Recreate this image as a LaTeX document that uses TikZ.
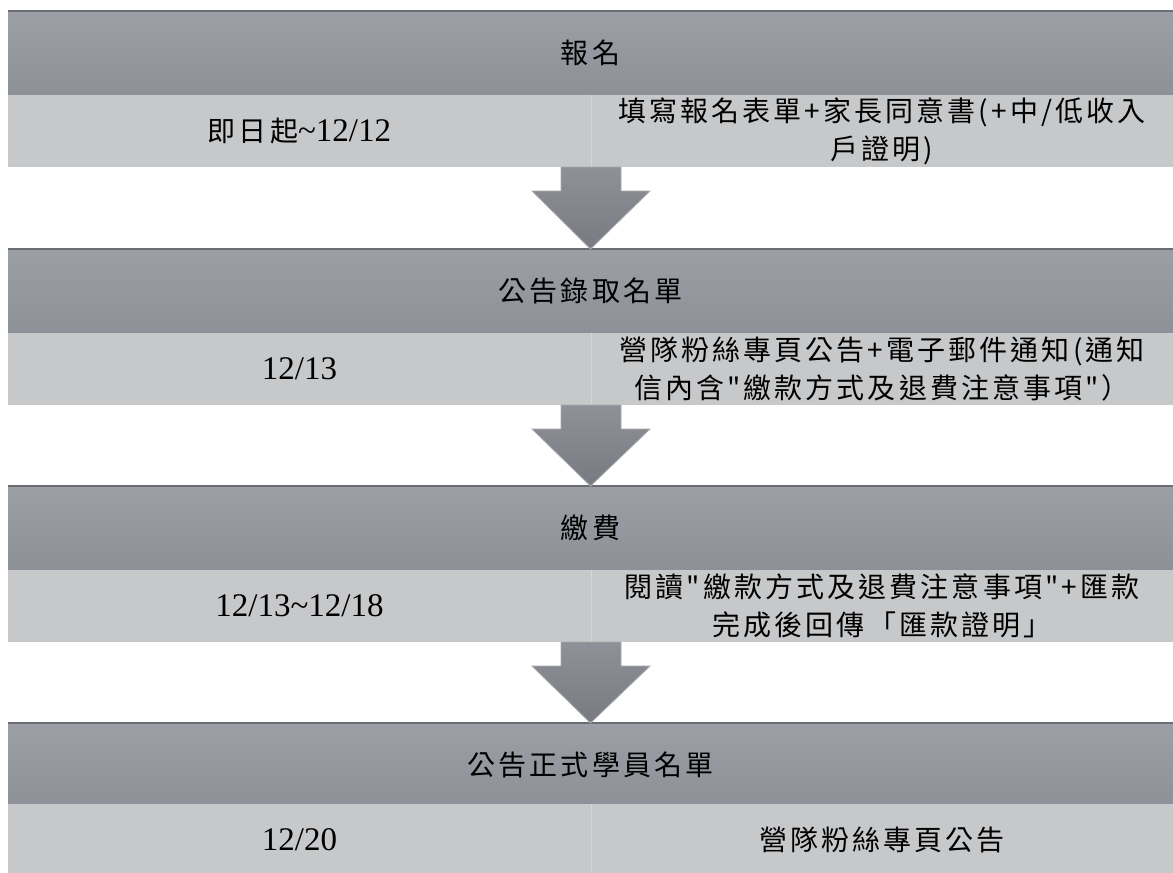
\documentclass[tikz,border=0pt]{standalone}
\usepackage{fontspec}
\setmainfont{Liberation Serif}
\newfontfamily\cjk{Noto Sans CJK TC}[LetterSpace=11]
\usetikzlibrary{calc}
\definecolor{hdtop}{RGB}{157,159,166}
\definecolor{hdbot}{RGB}{142,144,151}
\definecolor{hdline}{RGB}{108,109,114}
\definecolor{cellgray}{RGB}{199,200,202}
\definecolor{cellline}{RGB}{214,215,217}
\definecolor{artop}{RGB}{143,145,152}
\definecolor{arbot}{RGB}{120,122,129}
\definecolor{aredge}{RGB}{170,171,175}
\newcommand\zh[1]{{\cjk\fontsize{28}{38}\selectfont #1}}
\newcommand\en[1]{{\fontsize{33}{38}\selectfont #1}}
\newcommand\flowarrow[2]{%
  \draw[arrowbox] ($(#1)+(-30pt,0)$) -- ($(#1)+(30pt,0)$) -- ($(#1)+(30pt,-24pt)$)
    -- ($(#1)+(59pt,-24pt)$) -- (#2) -- ($(#1)+(-59pt,-24pt)$)
    -- ($(#1)+(-30pt,-24pt)$) -- cycle;}
\tikzset{
  header/.style={anchor=north west, minimum width=1165pt, minimum height=84pt,
    inner sep=0pt, outer sep=0pt, top color=hdtop, bottom color=hdbot,
    font=\fontsize{28}{38}\selectfont},
  cellbox/.style={anchor=north west, minimum width=583pt, minimum height=72pt,
    inner sep=0pt, outer sep=0pt, fill=cellgray, align=center, text width=570pt,
    font=\fontsize{28}{38}\selectfont},
  arrowbox/.style={top color=artop, bottom color=arbot, draw=aredge, line width=0.8pt},
  topedge/.style={draw=hdline, line width=1.5pt},
  divline/.style={draw=cellline, line width=1pt},
}
\begin{document}
\begin{tikzpicture}[x=1pt,y=-1pt]
\useasboundingbox[fill=white] (0,0) rectangle (1173,873);
% block 1
\node[header] (h1) at (8,11) {\zh{報名}};
\node[cellbox] (l1) at (8,95) {\zh{即日起}\en{\char"7E 12/12}};
\node[cellbox, minimum width=582pt] (r1) at (591,95) {\zh{填寫報名表單+家長同意書(+中/低收入}\\\zh{戶證明)}};
% block 2
\node[header] (h2) at (8,249) {\zh{公告錄取名單}};
\node[cellbox] (l2) at (8,333) {\en{12/13}};
\node[cellbox, minimum width=582pt] (r2) at (591,333) {\zh{營隊粉絲專頁公告+電子郵件通知(通知}\\\zh{信內含"繳款方式及退費注意事項"）}};
% block 3
\node[header] (h3) at (8,486) {\zh{繳費}};
\node[cellbox] (l3) at (8,570) {\en{12/13\char"7E 12/18}};
\node[cellbox, minimum width=582pt] (r3) at (591,570) {\zh{閱讀"繳款方式及退費注意事項"+匯款}\\\zh{完成後回傳「匯款證明」}};
% block 4
\node[header] (h4) at (8,723) {\zh{公告正式學員名單}};
\node[cellbox] (l4) at (8,804) {\en{12/20}};
\node[cellbox, minimum width=582pt] (r4) at (591,804) {\zh{營隊粉絲專頁公告}};
% edges and dividers
\foreach \h in {h1,h2,h3,h4} {
  \draw[topedge] (\h.north west) -- (\h.north east);
}
\foreach \c in {l1,l2,l3,l4} {
  \draw[divline] (\c.north east) -- (\c.south east);
}
% arrows
\flowarrow{l1.south east}{h2.north}
\flowarrow{l2.south east}{h3.north}
\flowarrow{l3.south east}{h4.north}
\end{tikzpicture}
\end{document}
